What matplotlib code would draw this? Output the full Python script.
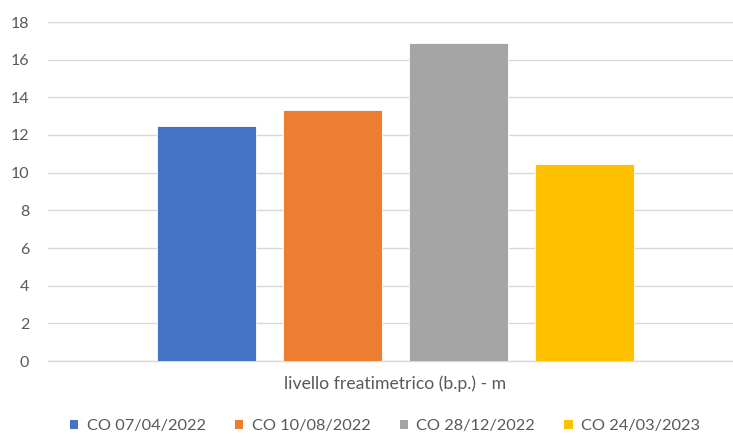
import matplotlib
matplotlib.use("Agg")
import matplotlib.pyplot as plt
from matplotlib.patches import Patch

category = "livello freatimetrico (b.p.) - m"
series_names = ["CO 07/04/2022", "CO 10/08/2022", "CO 28/12/2022", "CO 24/03/2023"]
values = [12.5, 13.33, 16.9, 10.45]
colors = ["#4472C4", "#ED7D31", "#A5A5A5", "#FFC000"]
yticks = [0, 2, 4, 6, 8, 10, 12, 14, 16, 18]

plt.rcParams["font.family"] = ["Lato", "DejaVu Sans"]
text_color = "#595959"

W, H = 733, 436
fig = plt.figure(figsize=(W / 100, H / 100), dpi=100)
# plot area: left 48 px, top 22 px, bottom 361 px; right edge runs past the canvas
left, right, top, bottom = 48, 743, 22, 361
ax = fig.add_axes([left / W, 1 - bottom / H, (right - left) / W, (bottom - top) / H])

bar_w = 99 / (right - left)
step = 126 / (right - left)
n = len(values)
for i, (v, c, name) in enumerate(zip(values, colors, series_names)):
    x = (i - (n - 1) / 2) * step
    ax.bar(x, v, width=bar_w, color=c, edgecolor="white", linewidth=0.6, zorder=3, label=name)

ax.set_xlim(-0.5, 0.5)
ax.set_ylim(0, 18)
ax.set_yticks(yticks)
ax.set_yticklabels([str(t) for t in yticks], color=text_color, fontsize=11.5)
ax.tick_params(axis="y", length=0, pad=13.5)
ax.set_xticks([])
ax.yaxis.grid(True, color="#D9D9D9", linewidth=1.0, zorder=0)
for s in ["top", "right", "left"]:
    ax.spines[s].set_visible(False)
ax.spines["bottom"].set_color("#D9D9D9")
ax.spines["bottom"].set_linewidth(1.0)

fig.text(395 / W, 1 - 384 / H, category, ha="center", va="center",
         color=text_color, fontsize=12.7)

handles = [Patch(facecolor=c, edgecolor="none") for c in colors]
fig.legend(handles, series_names, loc="center", bbox_to_anchor=(385 / W, 1 - 426 / H),
           ncol=4, frameon=False, fontsize=11.8, labelcolor=text_color,
           handlelength=0.5, handleheight=0.5, handletextpad=0.5, columnspacing=1.8)

fig.savefig("out.png", dpi=100)
